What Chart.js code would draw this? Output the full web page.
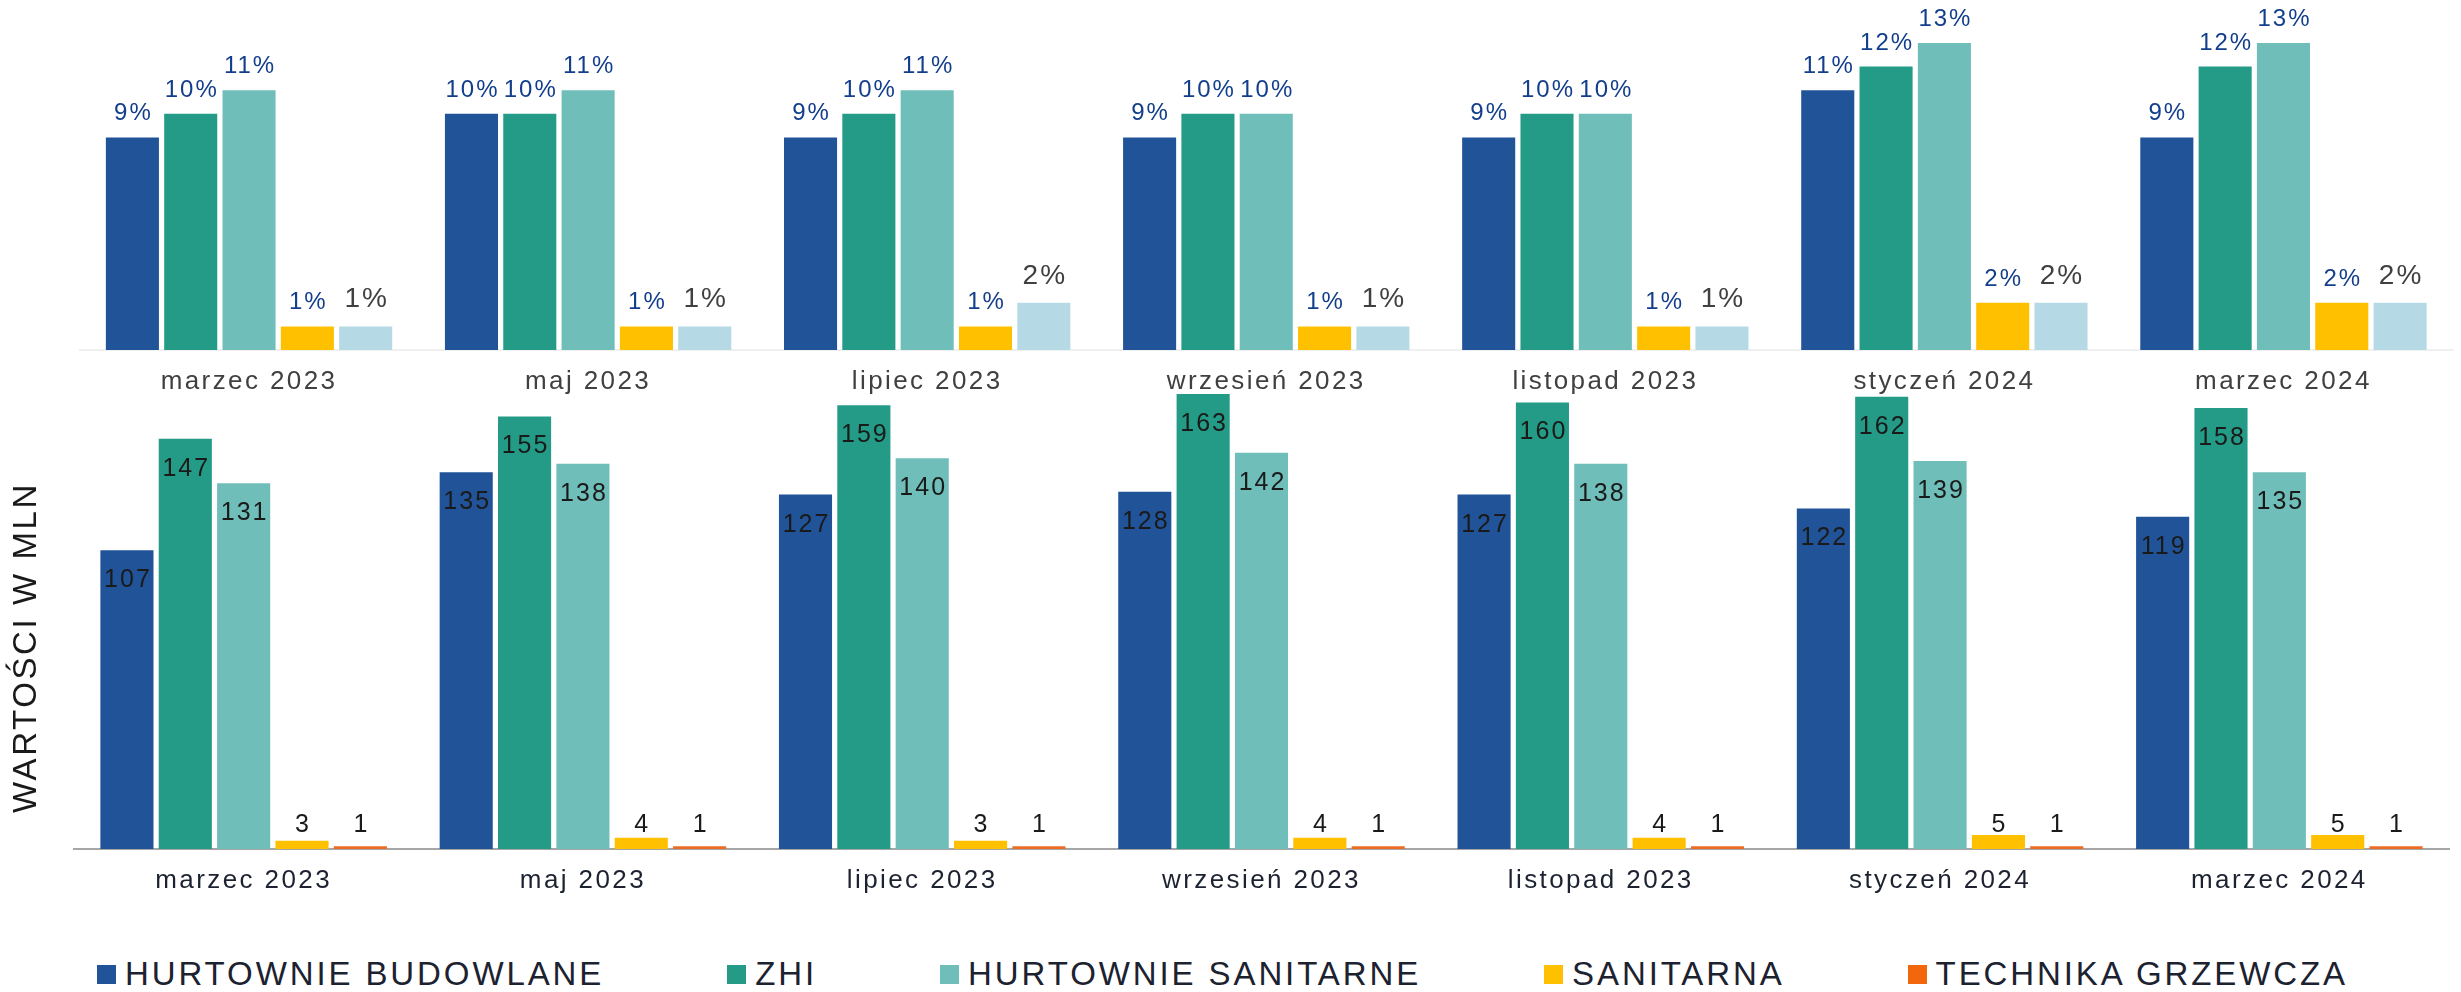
<!DOCTYPE html>
<html>
<head>
<meta charset="utf-8">
<script src="https://cdn.jsdelivr.net/npm/chart.js@4"></script>
<style>
  body { margin: 0; background: #ffffff; }
  #wrap { position: relative; width: 2461px; height: 992px; overflow: hidden; }
  #topChart { position: absolute; left: 0; top: 0; }
  #bottomChart { position: absolute; left: 0; top: 385px; }
  #legend { position: absolute; left: 97px; top: 954px; height: 40px; display: flex; align-items: center;
            font-family: 'Liberation Sans', Arial, sans-serif; font-size: 33px; letter-spacing: 2.9px;
            color: #1c2230; white-space: nowrap; }
  .item { display: flex; align-items: center; margin-right: 123px; }
  .box { width: 19px; height: 19px; margin-right: 9px; }
</style>
</head>
<body>
<div id="wrap">
  <canvas id="topChart" width="2461" height="400"></canvas>
  <canvas id="bottomChart" width="2461" height="524"></canvas>
  <div id="legend"></div>
</div>
<script>
const months = ['marzec 2023', 'maj 2023', 'lipiec 2023', 'wrzesień 2023', 'listopad 2023', 'styczeń 2024', 'marzec 2024'];
const seriesNames = ['HURTOWNIE BUDOWLANE', 'ZHI', 'HURTOWNIE SANITARNE', 'SANITARNA', 'TECHNIKA GRZEWCZA'];
const axisTitle = 'WARTOŚCI W MLN';

//udzial procentowy (gorny wykres)
const shareBudowlane = [9, 10, 9, 9, 9, 11, 9];
const shareZhi = [10, 10, 10, 10, 10, 12, 12];
const shareSanitarne = [11, 11, 11, 10, 10, 13, 13];
const shareSanitarna = [1, 1, 1, 1, 1, 2, 2];
const shareGrzewcza = [1, 1, 2, 1, 1, 2, 2];

//wartosci w mln (dolny wykres)
const valBudowlane = [107, 135, 127, 128, 127, 122, 119];
const valZhi = [147, 155, 159, 163, 160, 162, 158];
const valSanitarne = [131, 138, 140, 142, 138, 139, 135];
const valSanitarna = [3, 4, 3, 4, 4, 5, 5];
const valGrzewcza = [1, 1, 1, 1, 1, 1, 1];

const topColors = ['#215398', '#239B86', '#6FBEB9', '#FFC000', '#B6DAE5'];
const bottomColors = ['#215398', '#239B86', '#6FBEB9', '#FFC000', '#EB6C22'];

const fontFamily = "'Liberation Sans', Arial, sans-serif";

//the original text is a bit wider than Liberation Sans - add some letter spacing
const wideText = {
    id: 'wideText',
    beforeDraw(chart) {
        chart.ctx.letterSpacing = '2.4px';
    }
};

//labels above bars in top chart
const percentLabels = {
    id: 'percentLabels',
    afterDatasetsDraw(chart) {
        const ctx = chart.ctx;
        ctx.save();
        ctx.textAlign = 'center';
        ctx.textBaseline = 'alphabetic';
        ctx.letterSpacing = '2px';
        chart.data.datasets.forEach((ds, i) => {
            const meta = chart.getDatasetMeta(i);
            const last = i === chart.data.datasets.length - 1;
            ctx.fillStyle = last ? '#404040' : '#123E8C';
            ctx.font = (last ? '28px ' : '24px ') + fontFamily;
            meta.data.forEach((bar, j) => {
                ctx.fillText(ds.data[j] + '%', bar.x + 1, bar.y - (last ? 19 : 17));
            });
        });
        ctx.restore();
    }
};

//labels inside bars (or above small bars) in bottom chart + rotated axis title
const valueLabels = {
    id: 'valueLabels',
    afterDatasetsDraw(chart) {
        const ctx = chart.ctx;
        ctx.save();
        ctx.textAlign = 'center';
        ctx.textBaseline = 'alphabetic';
        ctx.letterSpacing = '2px';
        ctx.fillStyle = '#1a1a1a';
        ctx.font = '25px ' + fontFamily;
        chart.data.datasets.forEach((ds, i) => {
            const meta = chart.getDatasetMeta(i);
            meta.data.forEach((bar, j) => {
                const h = bar.base - bar.y;
                const y = h > 40 ? bar.y + 37 : bar.base - 17;
                ctx.fillText(String(ds.data[j]), bar.x + 1, y);
            });
        });
        //axis title - a bit below the middle of the plot like in the original
        const area = chart.chartArea;
        ctx.letterSpacing = '2.6px';
        ctx.font = '33px ' + fontFamily;
        ctx.textBaseline = 'middle';
        ctx.translate(27, (area.top + area.bottom) / 2 + 28);
        ctx.rotate(-Math.PI / 2);
        ctx.fillText(axisTitle, 0, 0);
        ctx.restore();
    }
};

function makeDatasets(arrays, colors) {
    return arrays.map((arr, i) => ({
        label: seriesNames[i],
        data: arr,
        backgroundColor: colors[i],
        borderWidth: 0,
        categoryPercentage: 0.86,
        barPercentage: 0.91
    }));
}

Chart.defaults.font.family = fontFamily;
Chart.defaults.animation = false;

new Chart(document.getElementById('topChart'), {
    type: 'bar',
    data: {
        labels: months,
        datasets: makeDatasets([shareBudowlane, shareZhi, shareSanitarne, shareSanitarna, shareGrzewcza], topColors)
    },
    options: {
        responsive: false,
        devicePixelRatio: 1,
        layout: { padding: { left: 79.5, right: 8, top: 4, bottom: 0 } },
        plugins: { legend: { display: false }, tooltip: { enabled: false } },
        scales: {
            x: {
                grid: { display: false, drawTicks: false },
                border: { display: true, color: '#f0f0f0', width: 2 },
                ticks: { color: '#404040', font: { size: 26 }, padding: 16 },
                afterFit: (s) => { s.height = 50; }
            },
            y: { display: false, min: 0, max: 14.65 }
        }
    },
    plugins: [wideText, percentLabels]
});

const bottomChart = new Chart(document.getElementById('bottomChart'), {
    type: 'bar',
    data: {
        labels: months,
        datasets: makeDatasets([valBudowlane, valZhi, valSanitarne, valSanitarna, valGrzewcza], bottomColors)
    },
    options: {
        responsive: false,
        devicePixelRatio: 1,
        layout: { padding: { left: 74, right: 12, top: 5, bottom: 0 } },
        plugins: { legend: { display: false }, tooltip: { enabled: false } },
        scales: {
            x: {
                grid: { display: false, drawTicks: false },
                border: { display: true, color: '#a6a6a6', width: 2 },
                ticks: { color: '#1c2230', font: { size: 26 }, padding: 16 },
                afterFit: (s) => { s.height = 60; }
            },
            y: { display: false, min: 0, max: 164.45 }
        }
    },
    plugins: [wideText, valueLabels]
});

//legend built from bottom chart series
const legend = document.getElementById('legend');
bottomChart.data.datasets.forEach(ds => {
    const item = document.createElement('div');
    item.className = 'item';
    const box = document.createElement('span');
    box.className = 'box';
    box.style.background = ds.label === 'TECHNIKA GRZEWCZA' ? '#F2660C' : ds.backgroundColor;
    const txt = document.createElement('span');
    txt.textContent = ds.label;
    item.appendChild(box);
    item.appendChild(txt);
    legend.appendChild(item);
});
</script>
</body>
</html>
